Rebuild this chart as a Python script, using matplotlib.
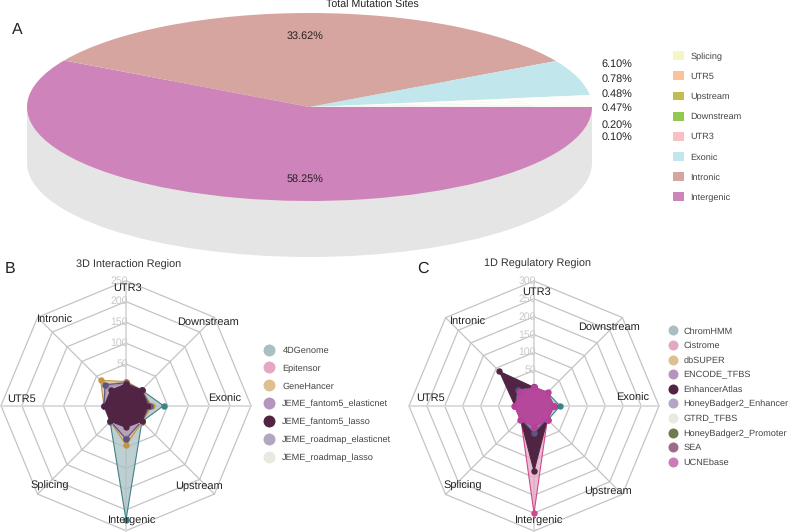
import numpy as np
import matplotlib
matplotlib.use("Agg")
import matplotlib.pyplot as plt
from matplotlib.lines import Line2D
from matplotlib.patches import Ellipse, Patch, Rectangle

plt.rcParams['font.family'] = ['Liberation Sans', 'DejaVu Sans']
plt.rcParams['text.hinting'] = 'none'

W, H = 792, 532
LEGEND_FS = 6.6

# pie data
pie_labels = ["Intergenic", "Intronic", "Exonic", "UTR3", "Downstream", "Upstream", "UTR5", "Splicing"]
pie_values = [58.25, 33.62, 6.10, 0.78, 0.48, 0.47, 0.20, 0.10]
pie_colors = ["#CE84BA", "#D7A5A0", "#C1E6EC", "#FDFDFA", "#FEFEFC", "#FDFDFA", "#FEFCF8", "#FBFBEC"]
legend_a_labels = ["Splicing", "UTR5", "Upstream", "Downstream", "UTR3", "Exonic", "Intronic", "Intergenic"]
legend_a_colors = ["#F5F6C6", "#FCC29A", "#C2BD4C", "#93C750", "#F8C0C0", "#C1E6EC", "#D7A5A0", "#CE84BA"]

# radar data, clockwise from the top
regions = ["UTR3", "Downstream", "Exonic", "Upstream", "Intergenic", "Splicing", "UTR5", "Intronic"]

series_b = {
    "4DGenome": [8, 3, 40, 4, 224, 4, 3, 21],
    "Epitensor": [1, 1, 2, 1, 2, 1, 1, 1],
    "GeneHancer": [8, 3, 12, 5, 44, 3, 3, 36],
    "JEME_fantom5_elasticnet": [3, 2, 6, 3, 28, 2, 3, 16],
    "JEME_fantom5_lasso": [2, 3, 3, 3, 2, 3, 2, 2],
    "JEME_roadmap_elasticnet": [5, 3, 8, 3, 30, 3, 3, 21],
    "JEME_roadmap_lasso": [1, 1, 2, 1, 2, 1, 1, 1],
}
series_c = {
    "ChromHMM": [2, 3, 23, 5, 8, 2, 2, 3],
    "Cistrome": [2, 2, 6, 3, 250, 2, 3, 3],
    "dbSUPER": [1, 1, 2, 1, 3, 1, 1, 2],
    "ENCODE_TFBS": [2, 2, 4, 2, 31, 2, 3, 25],
    "EnhancerAtlas": [2, 3, 5, 3, 132, 3, 3, 87],
    "HoneyBadger2_Enhancer": [1, 2, 3, 2, 25, 2, 2, 14],
    "GTRD_TFBS": [1, 1, 2, 1, 3, 1, 1, 2],
    "HoneyBadger2_Promoter": [1, 1, 2, 1, 3, 1, 1, 2],
    "SEA": [1, 2, 3, 2, 8, 2, 2, 4],
    "UCNEbase": [3, 4, 6, 4, 8, 4, 5, 4],
}

# fill, line + marker, legend dot
colors = {
    "4DGenome": ("#A9BFC3", "#3F8286", "#A9BFC3"), "ChromHMM": ("#A9BFC3", "#3F8286", "#A9BFC3"),
    "Epitensor": ("#E3A9C3", "#D0488E", "#E3A9C3"), "Cistrome": ("#E3A9C3", "#D0488E", "#E3A9C3"),
    "GeneHancer": ("#DDBF90", "#C8933C", "#DDBF90"), "dbSUPER": ("#DDBF90", "#C8933C", "#DDBF90"),
    "JEME_fantom5_elasticnet": ("#B595BE", "#7B4B8C", "#B595BE"), "ENCODE_TFBS": ("#B595BE", "#7B4B8C", "#B595BE"),
    "JEME_fantom5_lasso": ("#512443", "#512443", "#512443"), "EnhancerAtlas": ("#512443", "#512443", "#512443"),
    "JEME_roadmap_elasticnet": ("#B3A6C2", "#5D5580", "#B3A6C2"), "HoneyBadger2_Enhancer": ("#B3A6C2", "#5D5580", "#B3A6C2"),
    "JEME_roadmap_lasso": ("#E8EADF", "#D0D4C0", "#E8EADF"), "GTRD_TFBS": ("#E8EADF", "#D0D4C0", "#E8EADF"),
    "HoneyBadger2_Promoter": ("#6E7B4E", "#6E7B4E", "#6E7B4E"),
    "SEA": ("#9C6C88", "#9C6C88", "#9C6C88"),
    "UCNEbase": ("#B5489A", "#B8409A", "#CC7DB8"),
}
solid = {"JEME_fantom5_lasso", "EnhancerAtlas", "UCNEbase"}


def fx(px):
    return px / W


def fy(py):
    return 1 - py / H


def box(cx, cy, rx, ry):
    # axes rectangle from pixel centre and half sizes
    return [fx(cx - rx), fy(cy + ry), 2 * rx / W, 2 * ry / H]


def spacing(px):
    # legend labelspacing that gives rows px pixels apart
    fs = LEGEND_FS * 100 / 72
    return (px - 0.9 * fs) / fs


def radar(fig, cx, cy, radius, rmax, series, on_top, label_pos):
    ax = fig.add_axes(box(cx, cy, radius, radius), polar=True)
    ax.patch.set_alpha(0)
    ax.set_theta_zero_location("N")
    ax.set_theta_direction(-1)
    ax.spines["polar"].set_visible(False)
    ax.grid(False)
    ax.set_xticks([])
    ax.set_yticks([])
    # value 0 sits one ring out from the centre
    ax.set_rlim(-50, rmax)

    theta = np.arange(len(regions)) * 2 * np.pi / len(regions)
    closed = np.append(theta, theta[0])
    ticks = np.arange(0, rmax + 1, 50)
    for t in ticks:
        ax.plot(closed, np.full(closed.size, t), color="#C4C4C4", lw=0.9, zorder=1, clip_on=False)
        # tick labels sit just left of the vertical spoke, under the polygons
        ax.annotate(str(t), (0, t), xytext=(2, 0), textcoords="offset pixels", color="#C8C8C8",
                    fontsize=7.6, ha="right", va="center", zorder=2, annotation_clip=False)
    for i, th in enumerate(theta):
        strong = i % 2 == 0
        ax.plot([th, th], [-50, rmax], color="#D9D9D9" if strong else "#C4C4C4",
                lw=1.3 if strong else 0.9, zorder=1, clip_on=False)

    order = [n for n in series if n != on_top] + [on_top]
    for name in order:
        fill, edge, _ = colors[name]
        v = np.append(series[name], series[name][0])
        ax.fill(closed, v, color=fill, alpha=1 if name in solid else 0.75, lw=0, zorder=3)
        ax.plot(closed, v, color=edge, lw=0.8, marker="o", ms=3.6, zorder=3, clip_on=False)

    for name, (px, py) in zip(regions, label_pos):
        fig.text(fx(px), fy(py), name, fontsize=7.9, color="#222222",
                 ha="center", va="center", zorder=6)
    return ax


def dot_legend(fig, names, x, y, size, row_px, pad):
    handles = [Line2D([], [], ls="", marker="o", ms=size, mfc=colors[n][2], mec="none", label=n)
               for n in names]
    fig.legend(handles=handles, loc="center left", bbox_to_anchor=(fx(x), fy(y)),
               frameon=False, fontsize=LEGEND_FS, labelcolor="#444444", handlelength=1.0,
               handletextpad=pad, borderpad=0, borderaxespad=0, labelspacing=spacing(row_px))


fig = plt.figure(figsize=(W / 100, H / 100), dpi=100)

# panel A
pie_cx, pie_cy, pie_rx, pie_ry, depth = 309.5, 107, 282.5, 94, 56
ax_pie = fig.add_axes(box(pie_cx, pie_cy + depth / 2, pie_rx * 1.02, (pie_ry * 2 + depth) / 2 * 1.02))
ax_pie.pie(pie_values, colors=pie_colors, startangle=0, counterclock=False, radius=1,
           wedgeprops={"lw": 0})
ax_pie.set_aspect("auto")
ax_pie.set_xlim(-1.02, 1.02)
d = depth / pie_ry
ax_pie.set_ylim(-(1 + d / 2) * 1.02 - d / 2, (1 + d / 2) * 1.02 - d / 2)
ax_pie.add_patch(Ellipse((0, -d), 2, 2, color="#E5E5E5", lw=0, zorder=-2))
ax_pie.add_patch(Rectangle((-1, -d), 2, d, color="#E5E5E5", lw=0, zorder=-2))

fig.text(fx(372), fy(5), "Total Mutation Sites", fontsize=7.7, color="#222222", ha="center", va="center")
fig.text(fx(305), fy(36), "33.62%", fontsize=7.8, color="#222222", ha="center", va="center")
fig.text(fx(305), fy(179), "58.25%", fontsize=7.8, color="#222222", ha="center", va="center")
side_pct = ["6.10%", "0.78%", "0.48%", "0.47%", "0.20%", "0.10%"]
side_y = [64, 79, 94, 108.5, 125, 137]
for s, py in zip(side_pct, side_y):
    fig.text(fx(617), fy(py), s, fontsize=7.8, color="#222222", ha="center", va="center")

fig.legend(handles=[Patch(fc=c, ec="none", label=n) for n, c in zip(legend_a_labels, legend_a_colors)],
           loc="center left", bbox_to_anchor=(fx(673), fy(126.5)), frameon=False, fontsize=LEGEND_FS,
           labelcolor="#444444", handlelength=1.25, handleheight=1.1, handletextpad=0.65,
           borderpad=0, borderaxespad=0, labelspacing=spacing(19))

# panel B
radar(fig, 126, 405.7, 125, 250, series_b, "JEME_fantom5_lasso",
      [(128, 288), (208, 322), (225, 399), (199, 486), (132, 521), (50, 486), (22, 399), (55, 320)])
dot_legend(fig, list(series_b), 264, 404, 8.6, 17.67, 1.0)

# panel C
radar(fig, 534, 406, 125, 300, series_c, "UCNEbase",
      [(537, 292), (609, 327), (633, 398), (608, 491), (539, 521), (463, 486), (431, 398), (468, 322)])
dot_legend(fig, list(series_c), 668, 397, 7.2, 14.44, 0.67)

fig.text(fx(129), fy(265), "3D Interaction Region", fontsize=7.8, color="#333333", ha="center", va="center")
fig.text(fx(538), fy(264), "1D Regulatory Region", fontsize=7.8, color="#333333", ha="center", va="center")
for s, px, py in [("A", 17, 30), ("B", 10, 269), ("C", 423, 269)]:
    fig.text(fx(px), fy(py), s, fontsize=11.5, color="#222222", ha="center", va="center")

fig.savefig("out.png", dpi=100)
